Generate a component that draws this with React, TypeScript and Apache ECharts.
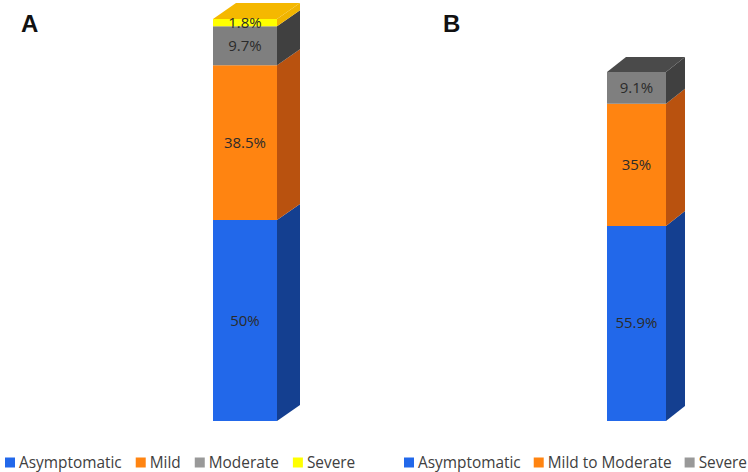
import React, { useEffect, useRef } from "react";
import * as echarts from "echarts";

const categoriesA = ["Asymptomatic", "Mild", "Moderate", "Severe"];
const valuesA = [50, 38.5, 9.7, 1.8];
const labelsA = ["50%", "38.5%", "9.7%", "1.8%"];
const categoriesB = ["Asymptomatic", "Mild to Moderate", "Severe"];
const valuesB = [55.9, 35, 9.1];
const labelsB = ["55.9%", "35%", "9.1%"];

const frontA = ["#2268EA", "#FF8411", "#7F7F7F", "#FFFF00"];
const sideA = ["#143F90", "#B9520F", "#404040", "#F0B400"];
const frontB = ["#2268EA", "#FF8411", "#7F7F7F"];
const sideB = ["#143F90", "#B9520F", "#404040"];
const topA = "#F5B800";
const topB = "#4A4A4A";
const legendA = ["#2268EA", "#FF8411", "#999999", "#FFFF00"];
const legendB = ["#2268EA", "#FF8411", "#999999"];

const FONT = "'Open Sans', sans-serif";

function makeSeries(
  names: string[], values: number[], labels: string[], front: string[], side: string[],
  topColor: string, gridIndex: number, dx: number, dy: number, legendColors: string[]
) {
  let acc = 0;
  return names.map((name, i) => {
    const start = acc;
    acc += values[i];
    const end = acc;
    const isTop = i === names.length - 1;
    return {
      type: "custom",
      name,
      xAxisIndex: gridIndex,
      yAxisIndex: gridIndex,
      clip: false,
      silent: true,
      itemStyle: { color: legendColors[i] },
      encode: { x: 0, y: [1, 2] },
      data: [[0, start, end]],
      z: 2 + i,
      renderItem: (_p: any, api: any) => {
        const lo = api.coord([api.value(0), api.value(1)]);
        const hi = api.coord([api.value(0), api.value(2)]);
        const w = api.size([1, 0])[0];
        const x0 = lo[0] - w / 2;
        const x1 = lo[0] + w / 2;
        const children: any[] = [
          {
            type: "polygon",
            shape: { points: [[x1, lo[1]], [x1 + dx, lo[1] - dy], [x1 + dx, hi[1] - dy], [x1, hi[1]]] },
            style: { fill: side[i] },
          },
          {
            type: "rect",
            shape: { x: x0, y: hi[1], width: w, height: lo[1] - hi[1] },
            style: { fill: front[i] },
          },
        ];
        if (isTop) {
          children.push({
            type: "polygon",
            shape: { points: [[x0, hi[1]], [x1, hi[1]], [x1 + dx, hi[1] - dy], [x0 + dx, hi[1] - dy]] },
            style: { fill: topColor },
          });
        }
        children.push({
          type: "text",
          z2: 10,
          style: {
            text: labels[i],
            x: lo[0],
            y: (lo[1] + hi[1]) / 2 - 1,
            align: "center",
            verticalAlign: "middle",
            fill: "#2B2B2B",
            font: `15px ${FONT}`,
          },
        });
        return { type: "group", children };
      },
    };
  });
}

export default function App() {
  const ref = useRef<HTMLDivElement>(null);
  useEffect(() => {
    const chart = echarts.init(ref.current!, undefined, { renderer: "svg" });
    const legendBase = {
      show: true,
      top: 455,
      padding: 0,
      orient: "horizontal",
      icon: "rect",
      itemWidth: 10,
      itemHeight: 10,
      selectedMode: false,
      textStyle: { color: "#404040", fontSize: 15.4, fontFamily: FONT, padding: [0, 0, 0, -1] },
    };
    const axisOff = { show: false };
    chart.setOption({
      animation: false,
      backgroundColor: "#FFFFFF",
      title: [
        { text: "A", left: 21, top: 11, padding: 0, textStyle: { fontFamily: "'Liberation Sans', Arial", fontWeight: "bold", fontSize: 24, color: "#111111" } },
        { text: "B", left: 443, top: 11, padding: 0, textStyle: { fontFamily: "'Liberation Sans', Arial", fontWeight: "bold", fontSize: 24, color: "#111111" } },
      ],
      grid: [
        { left: 213, top: 19, width: 64, height: 402 },
        { left: 607, top: 72, width: 59, height: 349 },
      ],
      xAxis: [
        { type: "category", gridIndex: 0, data: ["A"], ...axisOff },
        { type: "category", gridIndex: 1, data: ["B"], ...axisOff },
      ],
      yAxis: [
        { type: "value", gridIndex: 0, min: 0, max: 100, ...axisOff },
        { type: "value", gridIndex: 1, min: 0, max: 100, ...axisOff },
      ],
      legend: [
        {
          ...legendBase,
          left: 5,
          itemGap: 14,
          data: categoriesA.map((name, i) => ({ name, itemStyle: { color: legendA[i] } })),
        },
        {
          ...legendBase,
          left: 404,
          itemGap: 13,
          data: categoriesB.map((name, i) => ({ name, itemStyle: { color: legendB[i] } })),
        },
      ],
      series: [
        ...makeSeries(categoriesA, valuesA, labelsA, frontA, sideA, topA, 0, 23, 16, legendA),
        ...makeSeries(categoriesB, valuesB, labelsB, frontB, sideB, topB, 1, 19, 15, legendB),
      ],
    });
    return () => chart.dispose();
  }, []);
  return <div ref={ref} style={{ position: "fixed", left: 0, top: 0, width: 748, height: 472 }} />;
}
